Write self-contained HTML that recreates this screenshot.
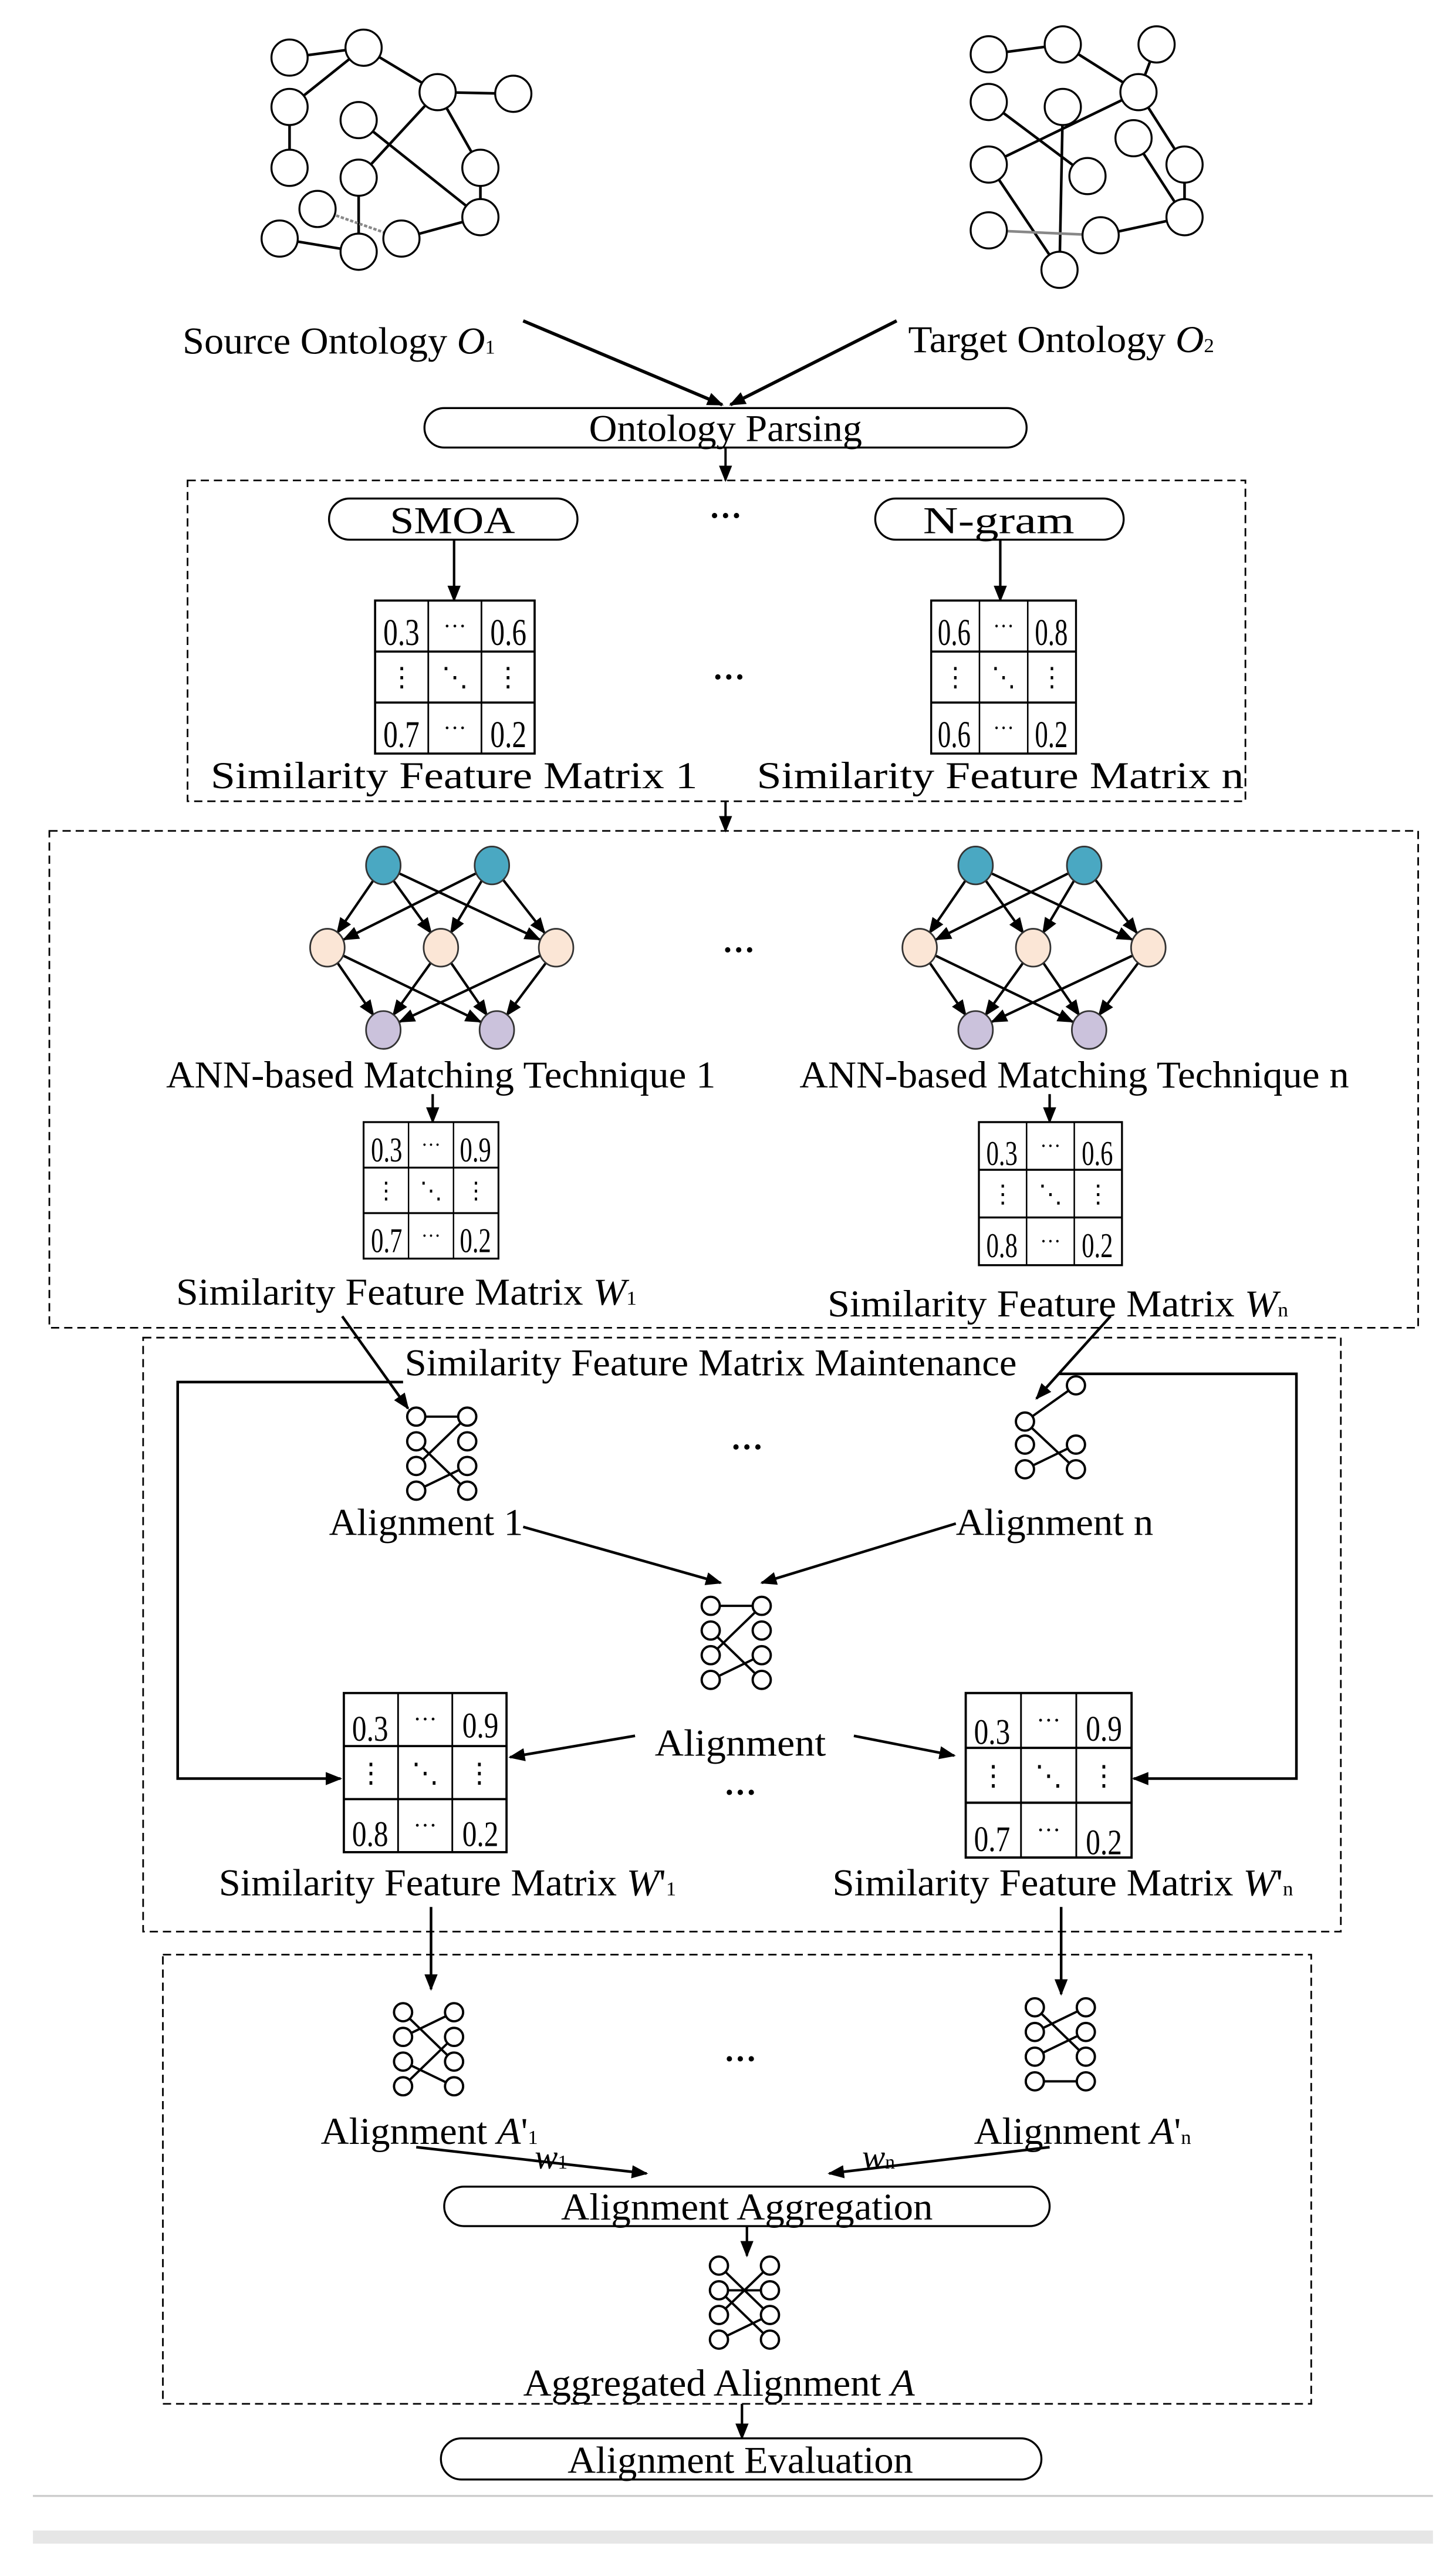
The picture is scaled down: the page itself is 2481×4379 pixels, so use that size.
<!DOCTYPE html>
<html><head><meta charset="utf-8"><style>
html,body{margin:0;padding:0;background:#fff;}
svg{display:block;}
text{font-family:"Liberation Serif",serif;fill:#000;}
</style></head><body>
<svg width="2481" height="4379" viewBox="0 0 885 1562" preserveAspectRatio="none" xmlns="http://www.w3.org/2000/svg">
<defs>
<marker id="ah" markerWidth="10" markerHeight="8" refX="9" refY="4" orient="auto" markerUnits="userSpaceOnUse">
<path d="M0,0 L10,4 L0,8 Z" fill="#000"/></marker>
<g id="mat">
<rect x="0" y="0" width="96" height="93" fill="#fff" stroke="#000" stroke-width="1.3"/>
<line x1="32" y1="0" x2="32" y2="93" stroke="#000" stroke-width="1"/>
<line x1="64" y1="0" x2="64" y2="93" stroke="#000" stroke-width="1"/>
<line x1="0" y1="31" x2="96" y2="31" stroke="#000" stroke-width="1.3"/>
<line x1="0" y1="62" x2="96" y2="62" stroke="#000" stroke-width="1.3"/>
<text x="48" y="20" font-size="14" text-anchor="middle" fill="#777">···</text>
<text x="48" y="82" font-size="14" text-anchor="middle" fill="#777">···</text>
<text x="16" y="52" font-size="16" text-anchor="middle" fill="#555">⋮</text>
<text x="48" y="52" font-size="16" text-anchor="middle" fill="#555">⋱</text>
<text x="80" y="52" font-size="16" text-anchor="middle" fill="#555">⋮</text>
</g>
<g id="icon" fill="#fff" stroke="#000" stroke-width="1.4">
<line x1="0" y1="0" x2="31" y2="0"/>
<line x1="0" y1="15" x2="31" y2="45"/>
<line x1="0" y1="30" x2="31" y2="0"/>
<line x1="0" y1="45" x2="31" y2="30"/>
<circle cx="0" cy="0" r="5.5"/><circle cx="31" cy="0" r="5.5"/>
<circle cx="0" cy="15" r="5.5"/><circle cx="31" cy="15" r="5.5"/>
<circle cx="0" cy="30" r="5.5"/><circle cx="31" cy="30" r="5.5"/>
<circle cx="0" cy="45" r="5.5"/><circle cx="31" cy="45" r="5.5"/>
</g>
<g id="ann">
<g stroke="#000" stroke-width="1.5" marker-end="url(#ah)">
<line x1="227" y1="535" x2="205" y2="567"/>
<line x1="239" y1="535" x2="262" y2="567"/>
<line x1="243" y1="531" x2="328" y2="571"/>
<line x1="289" y1="531" x2="209" y2="571"/>
<line x1="293" y1="535" x2="274" y2="567"/>
<line x1="306" y1="535" x2="331" y2="567"/>
<line x1="205" y1="585" x2="227" y2="617"/>
<line x1="209" y1="581" x2="292" y2="621"/>
<line x1="262" y1="585" x2="239" y2="617"/>
<line x1="274" y1="585" x2="296" y2="617"/>
<line x1="328" y1="581" x2="243" y2="621"/>
<line x1="332" y1="585" x2="308" y2="617"/>
</g>
<g stroke="#333" stroke-width="1">
<ellipse cx="233" cy="526" rx="10.5" ry="11.5" fill="#4aa8c2"/>
<ellipse cx="299" cy="526" rx="10.5" ry="11.5" fill="#4aa8c2"/>
<ellipse cx="199" cy="576" rx="10.5" ry="11.5" fill="#fbe6d6"/>
<ellipse cx="268" cy="576" rx="10.5" ry="11.5" fill="#fbe6d6"/>
<ellipse cx="338" cy="576" rx="10.5" ry="11.5" fill="#fbe6d6"/>
<ellipse cx="233" cy="626" rx="10.5" ry="11.5" fill="#cbc2dc"/>
<ellipse cx="302" cy="626" rx="10.5" ry="11.5" fill="#cbc2dc"/>
</g>
</g>
</defs>
<rect width="885" height="1562" fill="#fff"/>

<g stroke="#000" stroke-width="1.6">
<line x1="176" y1="35" x2="221" y2="29"/>
<line x1="221" y1="29" x2="266" y2="56"/>
<line x1="176" y1="65" x2="221" y2="29"/>
<line x1="266" y1="56" x2="312" y2="57"/>
<line x1="176" y1="65" x2="176" y2="102"/>
<line x1="218" y1="73" x2="292" y2="132"/>
<line x1="266" y1="56" x2="218" y2="108"/>
<line x1="266" y1="56" x2="292" y2="102"/>
<line x1="292" y1="102" x2="292" y2="132"/>
<line x1="218" y1="108" x2="218" y2="153"/>
<line x1="193" y1="127" x2="244" y2="145" stroke="#888" stroke-dasharray="2,1"/>
<line x1="170" y1="145" x2="218" y2="153"/>
<line x1="244" y1="145" x2="292" y2="132"/>
</g>
<g fill="#fff" stroke="#000" stroke-width="1.2">
<circle cx="176" cy="35" r="11"/><circle cx="221" cy="29" r="11"/><circle cx="176" cy="65" r="11"/>
<circle cx="266" cy="56" r="11"/><circle cx="312" cy="57" r="11"/><circle cx="218" cy="73" r="11"/>
<circle cx="176" cy="102" r="11"/><circle cx="292" cy="102" r="11"/><circle cx="218" cy="108" r="11"/>
<circle cx="193" cy="127" r="11"/><circle cx="292" cy="132" r="11"/><circle cx="170" cy="145" r="11"/>
<circle cx="218" cy="153" r="11"/><circle cx="244" cy="145" r="11"/>
</g>
<g stroke="#000" stroke-width="1.6">
<line x1="601" y1="33" x2="646" y2="27"/>
<line x1="646" y1="27" x2="692" y2="56"/>
<line x1="703" y1="27" x2="692" y2="56"/>
<line x1="601" y1="62" x2="661" y2="107"/>
<line x1="692" y1="56" x2="601" y2="100"/>
<line x1="646" y1="65" x2="644" y2="164"/>
<line x1="692" y1="56" x2="720" y2="100"/>
<line x1="601" y1="100" x2="644" y2="164"/>
<line x1="720" y1="100" x2="720" y2="132"/>
<line x1="689" y1="84" x2="720" y2="132"/>
<line x1="601" y1="140" x2="669" y2="143" stroke="#888"/>
<line x1="669" y1="143" x2="720" y2="132"/>
</g>
<g fill="#fff" stroke="#000" stroke-width="1.2">
<circle cx="601" cy="33" r="11"/><circle cx="646" cy="27" r="11"/><circle cx="703" cy="27" r="11"/>
<circle cx="692" cy="56" r="11"/><circle cx="601" cy="62" r="11"/><circle cx="646" cy="65" r="11"/>
<circle cx="689" cy="84" r="11"/><circle cx="601" cy="100" r="11"/><circle cx="661" cy="107" r="11"/>
<circle cx="720" cy="100" r="11"/><circle cx="601" cy="140" r="11"/><circle cx="669" cy="143" r="11"/>
<circle cx="720" cy="132" r="11"/><circle cx="644" cy="164" r="11"/>
</g>

<text x="111" y="215" font-size="23" textLength="190" lengthAdjust="spacingAndGlyphs">Source Ontology <tspan font-style="italic">O</tspan><tspan font-size="12">1</tspan></text>
<text x="552" y="214" font-size="23" textLength="186" lengthAdjust="spacingAndGlyphs">Target Ontology <tspan font-style="italic">O</tspan><tspan font-size="12">2</tspan></text>
<g stroke="#000" stroke-width="2" marker-end="url(#ah)">
<line x1="318" y1="195" x2="439" y2="246"/>
<line x1="545" y1="195" x2="444" y2="246"/>
</g>
<rect x="258" y="248" width="366" height="24" rx="12" fill="#fff" stroke="#000" stroke-width="1.2"/>
<text x="441" y="268" font-size="23" text-anchor="middle" textLength="166" lengthAdjust="spacingAndGlyphs">Ontology Parsing</text>
<line x1="441" y1="272" x2="441" y2="292" stroke="#000" stroke-width="1.4" marker-end="url(#ah)"/>

<rect x="114" y="292" width="643" height="195" fill="none" stroke="#000" stroke-width="1" stroke-dasharray="5,3"/>
<rect x="200" y="303" width="151" height="25" rx="12.5" fill="#fff" stroke="#000" stroke-width="1.2"/>
<text x="275" y="324" font-size="23" text-anchor="middle" textLength="76" lengthAdjust="spacingAndGlyphs">SMOA</text>
<rect x="532" y="303" width="151" height="25" rx="12.5" fill="#fff" stroke="#000" stroke-width="1.2"/>
<text x="607" y="324" font-size="23" text-anchor="middle" textLength="92" lengthAdjust="spacingAndGlyphs">N-gram</text>
<text x="441" y="320" font-size="20" text-anchor="middle" font-weight="bold">···</text>
<g stroke="#000" stroke-width="1.5" marker-end="url(#ah)">
<line x1="276" y1="328" x2="276" y2="365"/>
<line x1="608" y1="328" x2="608" y2="365"/>
</g>
<g transform="translate(228,365) scale(1.01,1)"><use href="#mat"/></g>
<g font-size="23" text-anchor="middle">
<text x="244" y="392" textLength="22" lengthAdjust="spacingAndGlyphs">0.3</text><text x="309" y="392" textLength="22" lengthAdjust="spacingAndGlyphs">0.6</text><text x="244" y="454" textLength="22" lengthAdjust="spacingAndGlyphs">0.7</text><text x="309" y="454" textLength="22" lengthAdjust="spacingAndGlyphs">0.2</text>
</g>
<g transform="translate(566,365) scale(0.917,1)"><use href="#mat"/></g>
<g font-size="23" text-anchor="middle">
<text x="580" y="392" textLength="20" lengthAdjust="spacingAndGlyphs">0.6</text><text x="639" y="392" textLength="20" lengthAdjust="spacingAndGlyphs">0.8</text><text x="580" y="454" textLength="20" lengthAdjust="spacingAndGlyphs">0.6</text><text x="639" y="454" textLength="20" lengthAdjust="spacingAndGlyphs">0.2</text>
</g>
<text x="443" y="418" font-size="20" text-anchor="middle" font-weight="bold">···</text>
<text x="276" y="479" font-size="23" text-anchor="middle" textLength="296" lengthAdjust="spacingAndGlyphs">Similarity Feature Matrix 1</text>
<text x="608" y="479" font-size="23" text-anchor="middle" textLength="296" lengthAdjust="spacingAndGlyphs">Similarity Feature Matrix n</text>
<line x1="441" y1="487" x2="441" y2="505" stroke="#000" stroke-width="1.4" marker-end="url(#ah)"/>

<rect x="30" y="505" width="832" height="302" fill="none" stroke="#000" stroke-width="1" stroke-dasharray="5,3"/>
<use href="#ann"/>
<g transform="translate(360,0)"><use href="#ann"/></g>
<text x="449" y="584" font-size="20" text-anchor="middle" font-weight="bold">···</text>
<text x="268" y="661" font-size="23" text-anchor="middle" textLength="334" lengthAdjust="spacingAndGlyphs">ANN-based Matching Technique 1</text>
<text x="653" y="661" font-size="23" text-anchor="middle" textLength="334" lengthAdjust="spacingAndGlyphs">ANN-based Matching Technique n</text>
<g stroke="#000" stroke-width="1.5" marker-end="url(#ah)">
<line x1="263" y1="665" x2="263" y2="682"/>
<line x1="638" y1="665" x2="638" y2="682"/>
</g>
<g transform="translate(221,682) scale(0.854,0.892)"><use href="#mat"/></g>
<g font-size="21" text-anchor="middle">
<text x="235" y="706" textLength="19" lengthAdjust="spacingAndGlyphs">0.3</text><text x="289" y="706" textLength="19" lengthAdjust="spacingAndGlyphs">0.9</text><text x="235" y="761" textLength="19" lengthAdjust="spacingAndGlyphs">0.7</text><text x="289" y="761" textLength="19" lengthAdjust="spacingAndGlyphs">0.2</text>
</g>
<g transform="translate(595,682) scale(0.906,0.935)"><use href="#mat"/></g>
<g font-size="21" text-anchor="middle">
<text x="609" y="708" textLength="19" lengthAdjust="spacingAndGlyphs">0.3</text><text x="667" y="708" textLength="19" lengthAdjust="spacingAndGlyphs">0.6</text><text x="609" y="764" textLength="19" lengthAdjust="spacingAndGlyphs">0.8</text><text x="667" y="764" textLength="19" lengthAdjust="spacingAndGlyphs">0.2</text>
</g>
<text x="107" y="793" font-size="23" textLength="280" lengthAdjust="spacingAndGlyphs">Similarity Feature  Matrix <tspan font-style="italic">W</tspan><tspan font-size="12">1</tspan></text>
<text x="503" y="800" font-size="23" textLength="280" lengthAdjust="spacingAndGlyphs">Similarity Feature  Matrix <tspan font-style="italic">W</tspan><tspan font-size="12">n</tspan></text>

<rect x="87" y="813" width="728" height="361" fill="none" stroke="#000" stroke-width="1" stroke-dasharray="5,3"/>
<text x="432" y="836" font-size="23" text-anchor="middle" textLength="372" lengthAdjust="spacingAndGlyphs">Similarity Feature Matrix Maintenance</text>
<g stroke="#000" stroke-width="1.6" fill="none">
<line x1="208" y1="800" x2="248" y2="856" marker-end="url(#ah)"/>
<line x1="675" y1="800" x2="630" y2="850" marker-end="url(#ah)"/>
<polyline points="245,840 108,840 108,1081 207,1081" marker-end="url(#ah)"/>
<polyline points="644,835 788,835 788,1081 689,1081" marker-end="url(#ah)"/>
</g>
<g transform="translate(253,861)"><use href="#icon"/></g>
<g transform="translate(623,849)" fill="#fff" stroke="#000" stroke-width="1.4">
<line x1="0" y1="15" x2="31" y2="-7"/><line x1="0" y1="15" x2="31" y2="44"/><line x1="0" y1="44" x2="31" y2="29"/>
<circle cx="31" cy="-7" r="5.5"/><circle cx="0" cy="15" r="5.5"/><circle cx="0" cy="29" r="5.5"/><circle cx="31" cy="29" r="5.5"/><circle cx="0" cy="44" r="5.5"/><circle cx="31" cy="44" r="5.5"/>
</g>
<text x="454" y="886" font-size="20" text-anchor="middle" font-weight="bold">···</text>
<text x="259" y="933" font-size="23" text-anchor="middle" textLength="118" lengthAdjust="spacingAndGlyphs">Alignment 1</text>
<text x="641" y="933" font-size="23" text-anchor="middle" textLength="120" lengthAdjust="spacingAndGlyphs">Alignment n</text>
<g stroke="#000" stroke-width="1.6" marker-end="url(#ah)">
<line x1="318" y1="928" x2="438" y2="962"/>
<line x1="581" y1="926" x2="463" y2="962"/>
<line x1="386" y1="1055" x2="310" y2="1068"/>
<line x1="519" y1="1055" x2="580" y2="1067"/>
</g>
<g transform="translate(432,976)"><use href="#icon"/></g>
<text x="450" y="1067" font-size="23" text-anchor="middle" textLength="104" lengthAdjust="spacingAndGlyphs">Alignment</text>
<g transform="translate(209,1029) scale(1.03,1.04)"><use href="#mat"/></g>
<g font-size="22" text-anchor="middle">
<text x="225" y="1058" textLength="22" lengthAdjust="spacingAndGlyphs">0.3</text><text x="292" y="1056" textLength="22" lengthAdjust="spacingAndGlyphs">0.9</text><text x="225" y="1122" textLength="22" lengthAdjust="spacingAndGlyphs">0.8</text><text x="292" y="1122" textLength="22" lengthAdjust="spacingAndGlyphs">0.2</text>
</g>
<g transform="translate(587,1029) scale(1.05,1.075)"><use href="#mat"/></g>
<g font-size="22" text-anchor="middle">
<text x="603" y="1060" textLength="22" lengthAdjust="spacingAndGlyphs">0.3</text><text x="671" y="1058" textLength="22" lengthAdjust="spacingAndGlyphs">0.9</text><text x="603" y="1125" textLength="22" lengthAdjust="spacingAndGlyphs">0.7</text><text x="671" y="1127" textLength="22" lengthAdjust="spacingAndGlyphs">0.2</text>
</g>
<text x="450" y="1096" font-size="20" text-anchor="middle" font-weight="bold">···</text>
<text x="272" y="1152" font-size="23" text-anchor="middle" textLength="278" lengthAdjust="spacingAndGlyphs">Similarity Feature Matrix <tspan font-style="italic">W</tspan>'<tspan font-size="12">1</tspan></text>
<text x="646" y="1152" font-size="23" text-anchor="middle" textLength="280" lengthAdjust="spacingAndGlyphs">Similarity Feature Matrix <tspan font-style="italic">W</tspan>'<tspan font-size="12">n</tspan></text>
<g stroke="#000" stroke-width="1.6" marker-end="url(#ah)">
<line x1="262" y1="1159" x2="262" y2="1209"/>
<line x1="645" y1="1159" x2="645" y2="1212"/>
</g>

<rect x="99" y="1188" width="698" height="273" fill="none" stroke="#000" stroke-width="1" stroke-dasharray="5,3"/>
<g transform="translate(245,1223)" fill="#fff" stroke="#000" stroke-width="1.4">
<line x1="0" y1="0" x2="31" y2="30"/><line x1="0" y1="15" x2="31" y2="0"/><line x1="0" y1="30" x2="31" y2="45"/><line x1="0" y1="45" x2="31" y2="15"/>
<circle cx="0" cy="0" r="5.5"/><circle cx="31" cy="0" r="5.5"/><circle cx="0" cy="15" r="5.5"/><circle cx="31" cy="15" r="5.5"/>
<circle cx="0" cy="30" r="5.5"/><circle cx="31" cy="30" r="5.5"/><circle cx="0" cy="45" r="5.5"/><circle cx="31" cy="45" r="5.5"/>
</g>
<g transform="translate(629,1220)" fill="#fff" stroke="#000" stroke-width="1.4">
<line x1="0" y1="0" x2="31" y2="30"/><line x1="0" y1="15" x2="31" y2="0"/><line x1="0" y1="30" x2="31" y2="15"/><line x1="0" y1="45" x2="31" y2="45"/>
<circle cx="0" cy="0" r="5.5"/><circle cx="31" cy="0" r="5.5"/><circle cx="0" cy="15" r="5.5"/><circle cx="31" cy="15" r="5.5"/>
<circle cx="0" cy="30" r="5.5"/><circle cx="31" cy="30" r="5.5"/><circle cx="0" cy="45" r="5.5"/><circle cx="31" cy="45" r="5.5"/>
</g>
<text x="450" y="1258" font-size="20" text-anchor="middle" font-weight="bold">···</text>
<text x="261" y="1303" font-size="23" text-anchor="middle" textLength="132" lengthAdjust="spacingAndGlyphs">Alignment <tspan font-style="italic">A</tspan>'<tspan font-size="12">1</tspan></text>
<text x="658" y="1303" font-size="23" text-anchor="middle" textLength="132" lengthAdjust="spacingAndGlyphs">Alignment <tspan font-style="italic">A</tspan>'<tspan font-size="12">n</tspan></text>
<text x="325" y="1318" font-size="21" font-style="italic">w<tspan font-size="12" font-style="normal">1</tspan></text>
<text x="524" y="1318" font-size="21" font-style="italic">w<tspan font-size="12" font-style="normal">n</tspan></text>
<g stroke="#000" stroke-width="1.6" marker-end="url(#ah)">
<line x1="253" y1="1305" x2="393" y2="1321"/>
<line x1="638" y1="1305" x2="504" y2="1321"/>
</g>
<rect x="270" y="1329" width="368" height="24" rx="12" fill="#fff" stroke="#000" stroke-width="1.2"/>
<text x="454" y="1349" font-size="23" text-anchor="middle" textLength="226" lengthAdjust="spacingAndGlyphs">Alignment Aggregation</text>
<line x1="454" y1="1353" x2="454" y2="1371" stroke="#000" stroke-width="1.5" marker-end="url(#ah)"/>
<g transform="translate(437,1377)" fill="#fff" stroke="#000" stroke-width="1.4">
<line x1="0" y1="0" x2="31" y2="30"/><line x1="0" y1="15" x2="31" y2="15"/><line x1="0" y1="30" x2="31" y2="0"/><line x1="0" y1="45" x2="31" y2="30"/><line x1="0" y1="15" x2="31" y2="45"/>
<circle cx="0" cy="0" r="5.5"/><circle cx="31" cy="0" r="5.5"/><circle cx="0" cy="15" r="5.5"/><circle cx="31" cy="15" r="5.5"/>
<circle cx="0" cy="30" r="5.5"/><circle cx="31" cy="30" r="5.5"/><circle cx="0" cy="45" r="5.5"/><circle cx="31" cy="45" r="5.5"/>
</g>
<text x="437" y="1456" font-size="23" text-anchor="middle" textLength="238" lengthAdjust="spacingAndGlyphs">Aggregated Alignment <tspan font-style="italic">A</tspan></text>
<line x1="451" y1="1461" x2="451" y2="1482" stroke="#000" stroke-width="1.5" marker-end="url(#ah)"/>
<rect x="268" y="1482" width="365" height="25" rx="12.5" fill="#fff" stroke="#000" stroke-width="1.2"/>
<text x="450" y="1503" font-size="23" text-anchor="middle" textLength="210" lengthAdjust="spacingAndGlyphs">Alignment Evaluation</text>

<line x1="20" y1="1517" x2="871" y2="1517" stroke="#ccc" stroke-width="1.2"/>
<rect x="20" y="1538" width="851" height="8" fill="#e6e6e6"/>
</svg>
</body></html>
